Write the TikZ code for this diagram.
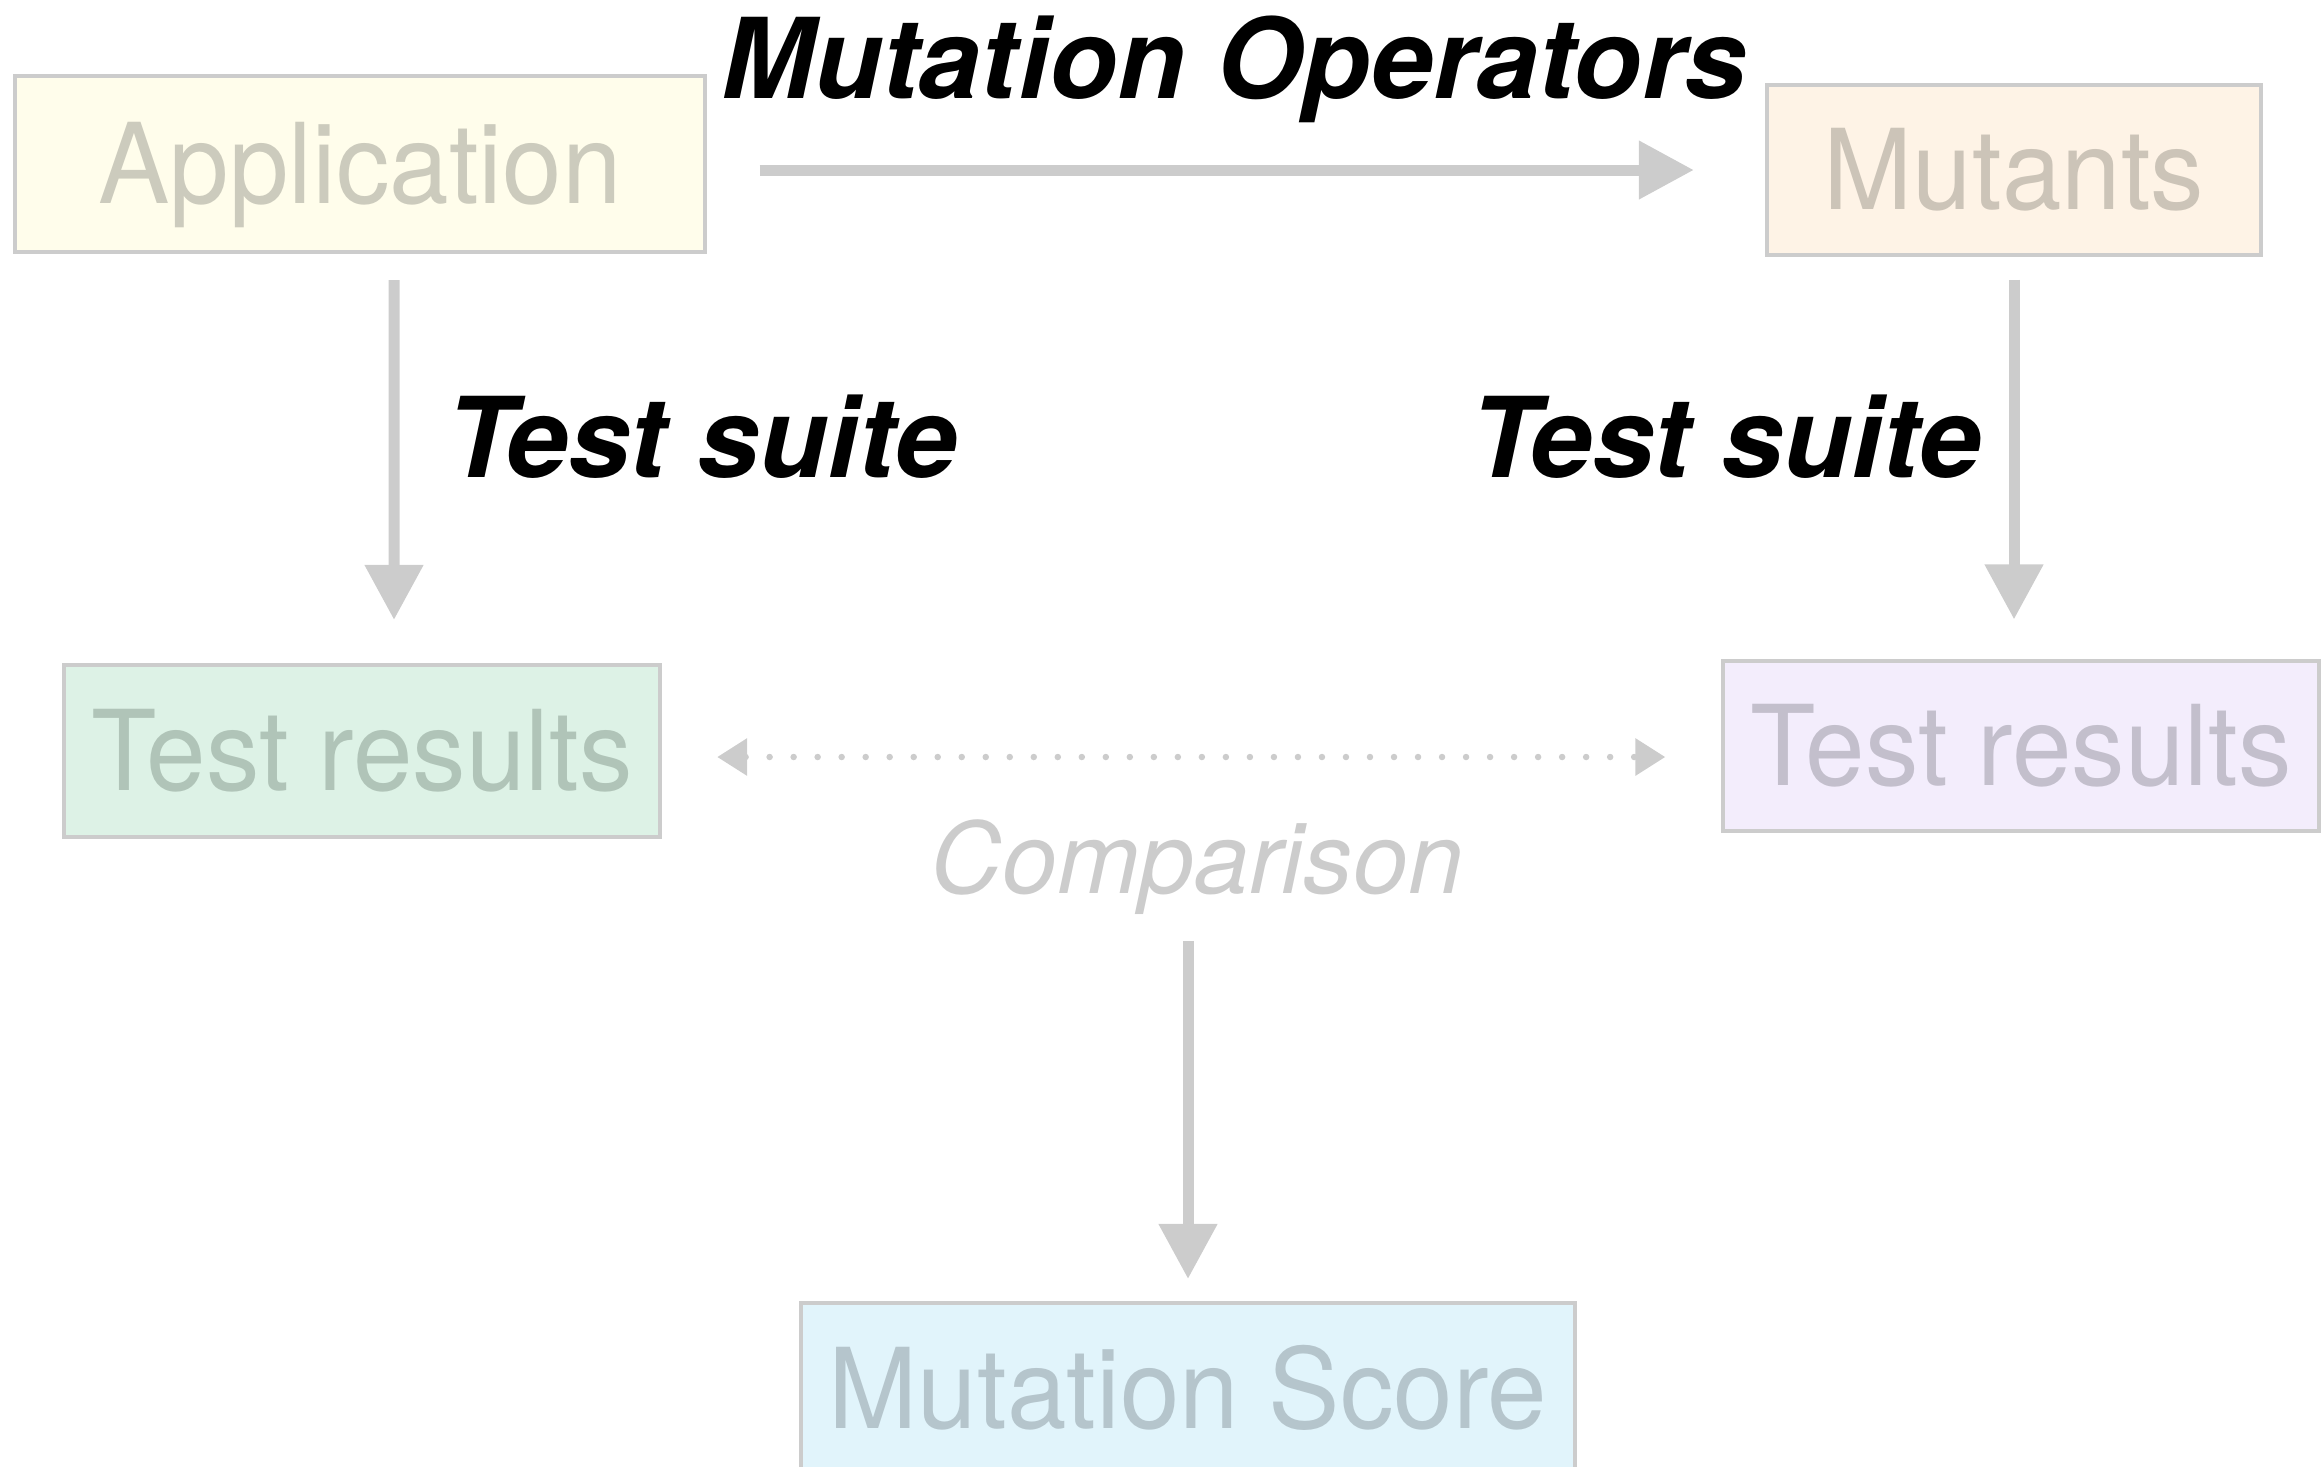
\documentclass[tikz,border=0pt]{standalone}
\usepackage{fontspec}
\setmainfont{TeX Gyre Heros}
\newfontfamily\boxfont[FakeStretch=0.96]{TeX Gyre Heros}
\usetikzlibrary{arrows.meta}
\definecolor{linegray}{HTML}{CCCCCC}
\definecolor{appfill}{HTML}{FFFDEB}
\definecolor{apptext}{HTML}{CCCBBD}
\definecolor{mutfill}{HTML}{FEF3E6}
\definecolor{muttext}{HTML}{CCC4B8}
\definecolor{resafill}{HTML}{DDF2E6}
\definecolor{resatext}{HTML}{B0C4B8}
\definecolor{resbfill}{HTML}{F3EDFC}
\definecolor{resbtext}{HTML}{C3BFCC}
\definecolor{scorefill}{HTML}{E1F4FB}
\definecolor{scoretext}{HTML}{B5C5CC}
\begin{document}
\begin{tikzpicture}
        [
            x=0.01cm, y=-0.01cm,
            block/.style={rectangle, line width=0.04cm, draw=linegray, inner sep=0pt,
                font=\boxfont\fontsize{31.7}{38}\selectfont, text height=0.78cm, text depth=0cm},
            label/.style={inner sep=0pt, anchor=base, font=\fontsize{31.7}{38}\selectfont\bfseries\itshape},
            arr/.style={line width=0.11cm, draw=linegray, -{Triangle[length=0.55cm, width=0.56cm]}},
            dotarr/.style={line width=0.065cm, draw=linegray, line cap=round, dash pattern=on 0pt off 0.24cm,
                {Triangle[length=0.3cm, width=0.36cm]}-{Triangle[length=0.3cm, width=0.36cm]}}
        ]
        \useasboundingbox (0,0) rectangle (2322,1466);
        % Application
        \node[block, fill=appfill, text=apptext, minimum width=6.89cm, minimum height=1.76cm] (app) at (360,164) {Application};
        % Mutants
        \node[block, fill=mutfill, text=muttext, minimum width=4.94cm, minimum height=1.69cm] (mut) at (2014,170) {Mutants};
        \draw[arr, shorten <=0.53cm, shorten >=0.71cm] (app.east |- mut.west) -- (mut.west);
        \node[label] (ops) at (1234,98) {Mutation Operators};
        % Test results
        \node[block, fill=resafill, text=resatext, minimum width=5.96cm, minimum height=1.72cm] (resa) at (362,751) {Test results};
        \node[block, fill=resbfill, text=resbtext, minimum width=5.95cm, minimum height=1.69cm] (resb) at (2021,746) {Test results};
        \draw[arr, shorten <=0.26cm, shorten >=0.43cm] ([xshift=0.34cm]app.south) -- ([xshift=0.32cm]resa.north);
        \draw[arr, shorten <=0.23cm, shorten >=0.40cm] (mut.south) -- (mut.south |- resb.north);
        \node[label] (suitea) at (702,477) {Test suite};
        \node[label] (suiteb) at (1726,477) {Test suite};
        % Comparison
        \draw[dotarr, shorten <=0.55cm, shorten >=0.56cm] ([yshift=-0.06cm]resa.east) -- ([yshift=-0.06cm]resa.east -| resb.west);
        \node[inner sep=0pt, anchor=base, text=linegray, font=\fontsize{28.1}{34}\selectfont\itshape] (cmp) at (1197,893) {Comparison};
        % Mutation Score
        \node[block, fill=scorefill, text=scoretext, minimum width=7.73cm, minimum height=1.72cm] (score) at (1188,1389) {Mutation Score};
        \draw[arr, shorten <=0.26cm, shorten >=0.22cm] (cmp.south -| score.north) -- (score.north);
    \end{tikzpicture}
\end{document}
